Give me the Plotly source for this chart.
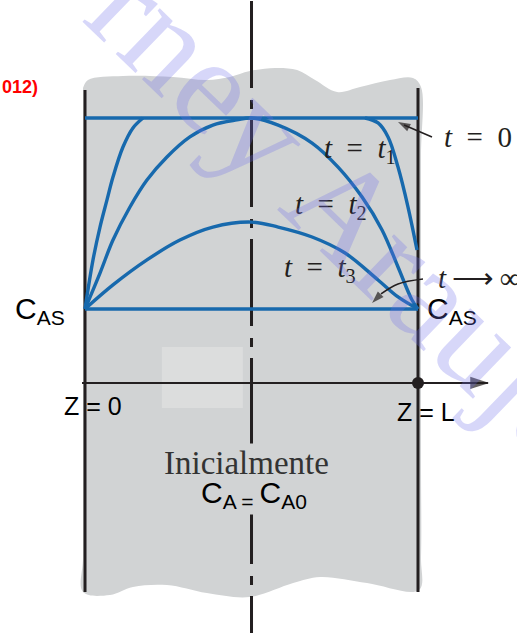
import plotly.graph_objects as go

# z: position across the slab (0 = left face, 1 = right face, L)
# c: scaled concentration (0 = C_AS at the faces, 1 = C_A0 initial)
z_t1_left = [0, 0.024, 0.045, 0.066, 0.084, 0.114, 0.144, 0.174]
c_t1_left = [0, 0.257, 0.429, 0.571, 0.691, 0.848, 0.948, 1.0]
z_t1_right = [0.841, 0.880, 0.910, 0.940, 0.970, 0.997]
c_t1_right = [1.0, 0.974, 0.901, 0.743, 0.534, 0.309]

z_t2 = [0, 0.045, 0.084, 0.135, 0.186, 0.246, 0.315, 0.384, 0.456, 0.5,
        0.580, 0.682, 0.760, 0.832, 0.892, 0.940, 0.982, 1.0]
c_t2 = [0, 0.188, 0.361, 0.534, 0.675, 0.796, 0.901, 0.963, 0.990, 1.0,
        0.963, 0.869, 0.743, 0.586, 0.414, 0.220, 0.047, 0]

z_t3 = [0, 0.084, 0.186, 0.285, 0.384, 0.5, 0.580, 0.682, 0.781, 0.880, 0.940, 1.0]
c_t3 = [0, 0.126, 0.257, 0.361, 0.429, 0.455, 0.429, 0.377, 0.293, 0.152, 0.063, 0]

z_faces = [0, 1]
c_initial = [1, 1]     # t = 0
c_surface = [0, 0]     # t -> inf

# wavy outline of the grey slab
slab_z = [-0.006, 0.009, 0.114, 0.264, 0.366, 0.435, 0.495, 0.571, 0.637, 0.691,
          0.757, 0.826, 0.916, 0.985, 1.009, 1.009, 1.009, 1.009, 1.009, 1.003,
          0.847, 0.706, 0.625, 0.495, 0.366, 0.246, 0.144, 0.075, -0.006,
          -0.006, -0.006, -0.006, -0.006]
slab_c = [1.157, 1.199, 1.220, 1.215, 1.199, 1.215, 1.246, 1.262, 1.251, 1.199,
          1.136, 1.162, 1.199, 1.209, 1.162, 0.8, 0.0, -0.8, -1.3, -1.471,
          -1.435, -1.403, -1.435, -1.508, -1.487, -1.445, -1.455, -1.497, -1.482,
          -1.3, -0.8, 0.0, 0.8]

axis_c = -0.387

BLUE = '#1769ad'
INK = '#231f20'
GREY = '#d1d3d4'

fig = go.Figure()

fig.add_trace(go.Scatter(x=slab_z, y=slab_c, mode='lines', fill='toself',
                         fillcolor=GREY, line=dict(width=0, shape='spline'),
                         hoverinfo='skip'))
# pale patch behind the axis
fig.add_trace(go.Scatter(x=[0.231, 0.474, 0.474, 0.231, 0.231],
                         y=[-0.199, -0.199, -0.518, -0.518, -0.199],
                         mode='lines', fill='toself', fillcolor='#dcdddd',
                         line=dict(width=0), hoverinfo='skip'))

# centre line
fig.add_trace(go.Scatter(x=[0.5, 0.5], y=[1.6125, -1.70], mode='lines',
                         line=dict(color=INK, width=3, dash='87px,12px,9px,11px'),
                         hoverinfo='skip'))
# faces
fig.add_trace(go.Scatter(x=[0, 0], y=[1.147, -1.482], mode='lines',
                         line=dict(color=INK, width=3), hoverinfo='skip'))
fig.add_trace(go.Scatter(x=[1, 1], y=[1.157, -1.482], mode='lines',
                         line=dict(color=INK, width=3), hoverinfo='skip'))

# axis line with arrow head
fig.add_trace(go.Scatter(x=[-0.009, 1.21], y=[axis_c, axis_c], mode='lines',
                         line=dict(color=INK, width=2), hoverinfo='skip'))

# profiles
for zz, cc in [(z_faces, c_initial), (z_faces, c_surface),
               (z_t1_left, c_t1_left), (z_t1_right, c_t1_right),
               (z_t2, c_t2), (z_t3, c_t3)]:
    fig.add_trace(go.Scatter(x=zz, y=cc, mode='lines',
                             line=dict(color=BLUE, width=3.4, shape='spline'),
                             hoverinfo='skip'))

# curved pointer arrows
fig.add_trace(go.Scatter(x=[1.042, 1.0, 0.958], y=[0.901, 0.932, 0.963], mode='lines',
                         line=dict(color=INK, width=1.6, shape='spline'), hoverinfo='skip'))
fig.add_trace(go.Scatter(x=[1.015, 0.940, 0.889], y=[0.157, 0.131, 0.079], mode='lines',
                         line=dict(color=INK, width=1.6, shape='spline'), hoverinfo='skip'))

heads = [
    ([1.15, 1.214], [axis_c, axis_c], 20),
    ([0.958, 0.940], [0.963, 0.979], 13),
    ([0.889, 0.862], [0.079, 0.031], 13),
]
for hx, hy, hs in heads:
    fig.add_trace(go.Scatter(x=hx, y=hy, mode='markers', hoverinfo='skip',
                             marker=dict(symbol='arrow', size=[0, hs], color=INK,
                                         angleref='previous', line=dict(width=0))))

fig.add_trace(go.Scatter(x=[1], y=[axis_c], mode='markers',
                         marker=dict(color=INK, size=12), hoverinfo='skip'))

SERIF = 'Liberation Serif'
SANS = 'Liberation Sans'
sp = '\u2002'
thin = '\u2009'

labels = [
    ('<i>t</i>' + sp + '=' + sp + '0', 1.072, 0.901, SERIF, 29, '#231f20'),
    ('<i>t</i>' + sp + '=' + sp + '<i>t</i><sub>1</sub>', 0.712, 0.83, SERIF, 29, '#231f20'),
    ('<i>t</i>' + sp + '=' + sp + '<i>t</i><sub>2</sub>', 0.625, 0.54, SERIF, 29, '#231f20'),
    ('<i>t</i>' + sp + '=' + sp + '<i>t</i><sub>3</sub>', 0.592, 0.21, SERIF, 29, '#231f20'),
    ('<i>t</i>' + thin + '\u27f6' + thin + '\u221e', 1.054, 0.162, SERIF, 29, '#231f20'),
    ('C<sub>AS</sub>', -0.216, -0.01, SANS, 30, '#000000'),
    ('C<sub>AS</sub>', 1.021, -0.01, SANS, 30, '#000000'),
    ('Z = 0', -0.069, -0.508, SANS, 25, '#000000'),
    ('Z = L', 0.931, -0.539, SANS, 25, '#000000'),
    ('<b>012)</b>', -0.2553, 1.162, SANS, 18, '#ff0000'),
]
for text, x, y, fam, size, col in labels:
    fig.add_annotation(x=x, y=y, xref='x', yref='y', text=text, showarrow=False,
                       xanchor='left', yanchor='middle',
                       font=dict(family=fam, size=size, color=col))

fig.add_annotation(x=0.486, y=-0.806, xref='x', yref='y', text='Inicialmente',
                   showarrow=False, bgcolor=GREY,
                   font=dict(family=SERIF, size=33, color='#333333'))
fig.add_annotation(x=0.508, y=-0.97, xref='x', yref='y',
                   text='C<sub>A = </sub>C<sub>A0</sub>', showarrow=False, bgcolor=GREY,
                   font=dict(family=SANS, size=30, color='#000000'))

# watermark
fig.add_annotation(x=0.79, y=0.50, xref='x', yref='y', text='rney Araujo',
                   showarrow=False, textangle=44,
                   font=dict(family=SERIF, size=138, color='rgba(110,110,235,0.28)'))

fig.update_layout(width=517, height=633, margin=dict(l=0, r=0, t=0, b=0),
                  paper_bgcolor='white', plot_bgcolor='white', showlegend=False,
                  xaxis=dict(visible=False, range=[-0.2553, 1.2973], fixedrange=True),
                  yaxis=dict(visible=False, range=[-1.6963, 1.6178], fixedrange=True))

fig.write_html("out.html", config={'displayModeBar': False},
               post_script="document.body.style.margin='0px';")
